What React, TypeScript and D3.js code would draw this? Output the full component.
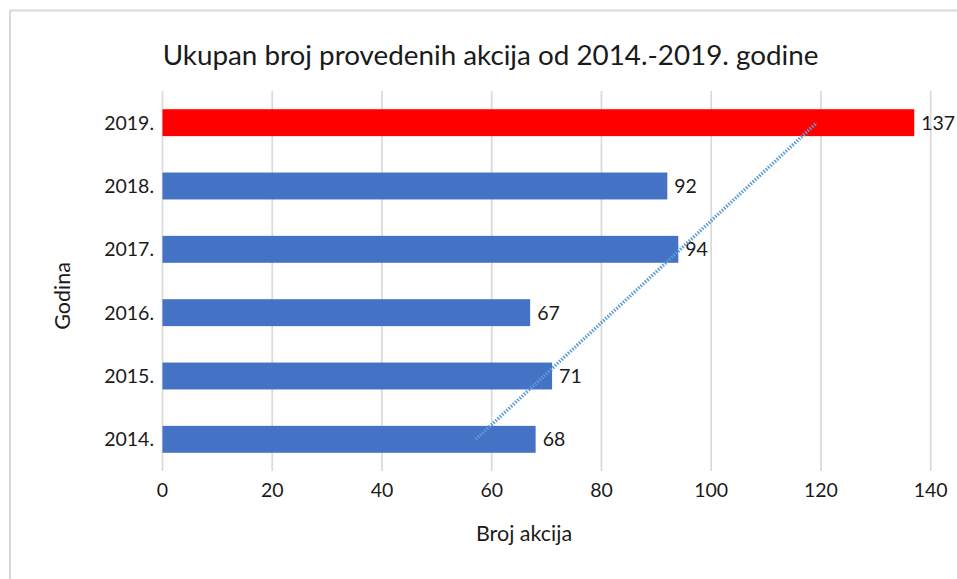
import React from "react";
import * as d3 from "d3";

const years = ["2014.", "2015.", "2016.", "2017.", "2018.", "2019."];
const values = [68, 71, 67, 94, 92, 137];
const barColors = ["#4472C4", "#4472C4", "#4472C4", "#4472C4", "#4472C4", "#FF0000"];
const xTicks = [0, 20, 40, 60, 80, 100, 120, 140];
const title = "Ukupan broj provedenih akcija od 2014.-2019. godine";
const xTitle = "Broj akcija";
const yTitle = "Godina";

const W = 957;
const H = 579;
const FONT = "Lato, 'Open Sans', sans-serif";

export default function App() {
  const left = 162.5;
  const right = 930.7;
  const top = 91;
  const bottom = 471;
  const x = d3.scaleLinear().domain([0, 140]).range([left, right]);
  const y = d3
    .scaleBand<string>()
    .domain([...years].reverse())
    .range([top, bottom])
    .paddingInner(0.575)
    .paddingOuter(0.2875);

  // linear trendline (least squares) over category index
  const n = values.length;
  const idx = values.map((_, i) => i);
  const mx = d3.mean(idx) as number;
  const my = d3.mean(values) as number;
  const sxy = d3.sum(idx.map((i) => (i - mx) * (values[i] - my)));
  const sxx = d3.sum(idx.map((i) => (i - mx) * (i - mx)));
  const slope = sxy / sxx;
  const intercept = my - slope * mx;
  const trendPts: [number, number][] = idx.map((i) => [
    x(intercept + slope * i),
    (y(years[i]) as number) + y.bandwidth() / 2,
  ]);
  const trend = d3.line()([trendPts[0], trendPts[n - 1]]) as string;

  return (
    <svg
      width={W}
      height={H}
      style={{ position: "absolute", left: 0, top: 0, background: "#fff" }}
      fontFamily={FONT}
    >
      <rect x={10} y={10.5} width={1000} height={1000} fill="#fff" stroke="#d9d9d9" strokeWidth={2} />
      <text x={490.5} y={65} textAnchor="middle" fontSize={27.8} fill="#1a1a1a">
        {title}
      </text>
      {xTicks.map((t) => (
        <g key={t}>
          <line x1={x(t)} x2={x(t)} y1={top} y2={bottom} stroke="#d9d9d9" strokeWidth={1.7} />
          <text x={x(t)} y={497} textAnchor="middle" fontSize={19.5} fill="#1a1a1a">
            {t}
          </text>
        </g>
      ))}
      {years.map((yr, i) => (
        <g key={yr}>
          <rect
            x={x(0)}
            y={y(yr)}
            width={x(values[i]) - x(0)}
            height={y.bandwidth()}
            fill={barColors[i]}
          />
          <text
            x={154}
            y={(y(yr) as number) + y.bandwidth() / 2 + 7}
            textAnchor="end"
            fontSize={19.5}
            fill="#1a1a1a"
          >
            {yr}
          </text>
          <text
            x={x(values[i]) + 7}
            y={(y(yr) as number) + y.bandwidth() / 2 + 7}
            fontSize={19.5}
            fill="#1a1a1a"
          >
            {values[i]}
          </text>
        </g>
      ))}
      <path d={trend} fill="none" stroke="#5B9BD5" strokeWidth={3.5} strokeDasharray="1.5 1.5" />
      <text x={524} y={541} textAnchor="middle" fontSize={21.5} fill="#1a1a1a">
        {xTitle}
      </text>
      <text
        transform={`translate(70,${296}) rotate(-90)`}
        textAnchor="middle"
        fontSize={21.5}
        fill="#1a1a1a"
      >
        {yTitle}
      </text>
    </svg>
  );
}
